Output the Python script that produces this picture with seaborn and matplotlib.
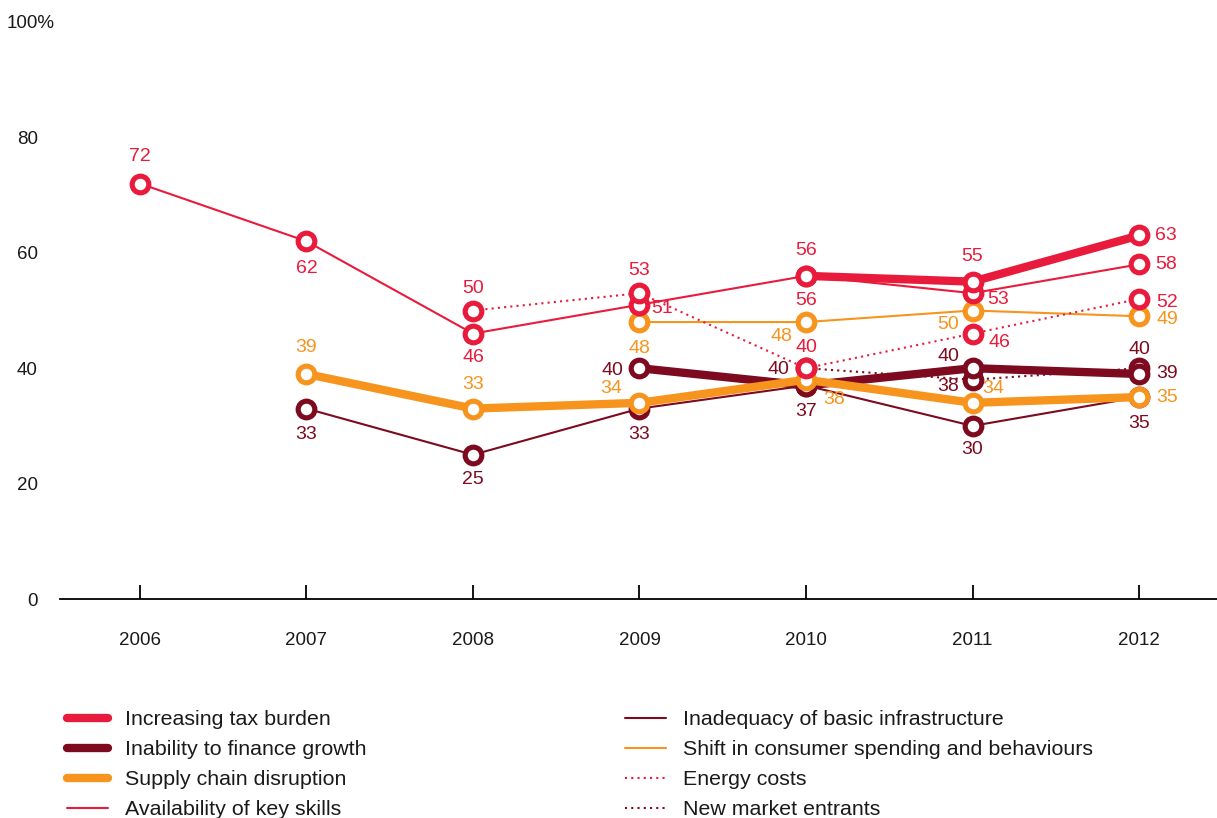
import numpy as np
import pandas as pd
import matplotlib
matplotlib.use("Agg")
import matplotlib.pyplot as plt
import matplotlib.transforms as mtransforms
from matplotlib.lines import Line2D
import seaborn as sns

# ---- data -------------------------------------------------------------
years = [2006, 2007, 2008, 2009, 2010, 2011, 2012]

series_names = [
    "Increasing tax burden",
    "Inability to finance growth",
    "Supply chain disruption",
    "Availability of key skills",
    "Inadequacy of basic infrastructure",
    "Shift in consumer spending and behaviours",
    "Energy costs",
    "New market entrants",
]

tax_burden        = [None, None, None, None, 56, 55, 63]
finance_growth    = [None, None, None, 40, 37, 40, 39]
supply_chain      = [None, 39, 33, 34, 38, 34, 35]
key_skills        = [72, 62, 46, 51, 56, 53, 58]
infrastructure    = [None, 33, 25, 33, 37, 30, 35]
consumer_shift    = [None, None, None, 48, 48, 50, 49]
energy_costs      = [None, None, 50, 53, 40, 46, 52]
new_entrants      = [None, None, None, None, 40, 38, 40]

y_ticks = [0, 20, 40, 60, 80, 100]
y_tick_labels = ["0", "20", "40", "60", "80", "100%"]

# ---- styling ----------------------------------------------------------
RED = "#E91B3C"
DARK = "#7D0A1F"
ORANGE = "#F7941E"
DOT = (0, (1, 2))

styles = {
    "Increasing tax burden": dict(color=RED, lw=6.0, ls="-"),
    "Inability to finance growth": dict(color=DARK, lw=6.0, ls="-"),
    "Supply chain disruption": dict(color=ORANGE, lw=6.0, ls="-"),
    "Availability of key skills": dict(color=RED, lw=1.5, ls="-"),
    "Inadequacy of basic infrastructure": dict(color=DARK, lw=1.5, ls="-"),
    "Shift in consumer spending and behaviours": dict(color=ORANGE, lw=1.5, ls="-"),
    "Energy costs": dict(color=RED, lw=1.5, ls=DOT),
    "New market entrants": dict(color=DARK, lw=1.5, ls=DOT),
}

# value-label offsets in pixels (dx, dy), one per year; None = no label
label_offsets = {
    "Increasing tax burden": [None, None, None, None, (0, 25), (0, 25), (27, 0)],
    "Inability to finance growth": [None, None, None, (-27, -2), (0, -26), (-24, 12), (28, 0)],
    "Supply chain disruption": [None, (0, 26), (0, 24), (-28, 14), (28, -20), (21, 14), (28, 0)],
    "Availability of key skills": [(0, 27), (0, -27), (0, -24), (23, -4), (0, -25), (26, -6), (27, 0)],
    "Inadequacy of basic infrastructure": [None, (0, -26), (0, -25), (0, -26), None, (0, -24), (0, -26)],
    "Shift in consumer spending and behaviours": [None, None, None, (0, -26), (-25, -14), (-24, -14), (28, -3)],
    "Energy costs": [None, None, (0, 22), (0, 23), (0, 21), (27, -9), (28, -4)],
    "New market entrants": [None, None, None, None, (-28, -1), (-24, -7), (0, 19)],
}

values = {
    "Increasing tax burden": tax_burden,
    "Inability to finance growth": finance_growth,
    "Supply chain disruption": supply_chain,
    "Availability of key skills": key_skills,
    "Inadequacy of basic infrastructure": infrastructure,
    "Shift in consumer spending and behaviours": consumer_shift,
    "Energy costs": energy_costs,
    "New market entrants": new_entrants,
}

draw_order = [
    "Inadequacy of basic infrastructure",
    "Shift in consumer spending and behaviours",
    "New market entrants",
    "Inability to finance growth",
    "Supply chain disruption",
    "Availability of key skills",
    "Increasing tax burden",
    "Energy costs",
]

# ---- figure -----------------------------------------------------------
sns.set_theme(style="white")
plt.rcParams["font.family"] = ["Liberation Sans", "DejaVu Sans"]

W, H = 1217, 818
fig = plt.figure(figsize=(W / 100, H / 100), dpi=100)
ax = fig.add_axes([60 / W, (H - 599) / H, (W - 60) / W, (599 - 22) / H])

frames = []
for name in series_names:
    frames.append(pd.DataFrame({"year": years, "value": values[name], "series": name}))
df = pd.concat(frames, ignore_index=True).dropna()

for z, name in enumerate(draw_order):
    st = styles[name]
    sub = df[df["series"] == name]
    sns.lineplot(
        data=sub, x="year", y="value", ax=ax, estimator=None, legend=False,
        color=st["color"], linewidth=st["lw"], linestyle=st["ls"],
        marker="o", markersize=12, markerfacecolor="white",
        markeredgecolor=st["color"], markeredgewidth=3.7,
        solid_capstyle="round", zorder=3 + z,
    )
    for yr, v, off in zip(years, values[name], label_offsets[name]):
        if v is None or off is None:
            continue
        ax.annotate(f"{v}", (yr, v), xytext=off, textcoords="offset pixels",
                    ha="center", va="center", color=st["color"], fontsize=14,
                    zorder=20)

ax.set_xlim(2005.52, 2012.468)
ax.set_ylim(0, 100)
ax.set_xticks(years)
ax.set_xticklabels([str(y) for y in years])
ax.set_yticks(y_ticks)
ax.set_yticklabels(y_tick_labels)
ax.set_xlabel("")
ax.set_ylabel("")

for side in ["left", "right", "top"]:
    ax.spines[side].set_visible(False)
ax.spines["bottom"].set_color("black")
ax.spines["bottom"].set_linewidth(1.3)

ax.tick_params(axis="x", direction="in", length=10, width=1.3, color="black",
               pad=24, labelsize=13.5, labelcolor="#1a1a1a", bottom=True)
ax.tick_params(axis="y", length=0, pad=16, labelsize=13.5, labelcolor="#1a1a1a")

# let the percent sign hang past the other tick labels
for lab in ax.get_yticklabels():
    if lab.get_text().endswith("%"):
        lab.set_transform(lab.get_transform() +
                          mtransforms.ScaledTranslation(17 / 100, 0, fig.dpi_scale_trans))

# ---- legend (two columns) ---------------------------------------------
def handle(name):
    st = styles[name]
    return Line2D([], [], color=st["color"], lw=st["lw"], ls=st["ls"],
                  solid_capstyle="round")

leg_kw = dict(loc="upper left", frameon=False, fontsize=15.4, handlelength=1.92,
              handletextpad=0.8, labelspacing=0.52, borderpad=0, borderaxespad=0)

col1 = series_names[:4]
col2 = series_names[4:]
leg1 = fig.legend([handle(n) for n in col1], col1,
                  bbox_to_anchor=(67 / W, 1 - 710 / H), **leg_kw)
leg2 = fig.legend([handle(n) for n in col2], col2,
                  bbox_to_anchor=(625 / W, 1 - 710 / H), **leg_kw)
for leg in (leg1, leg2):
    for t in leg.get_texts():
        t.set_color("#1a1a1a")

fig.savefig("out.png", dpi=100)
